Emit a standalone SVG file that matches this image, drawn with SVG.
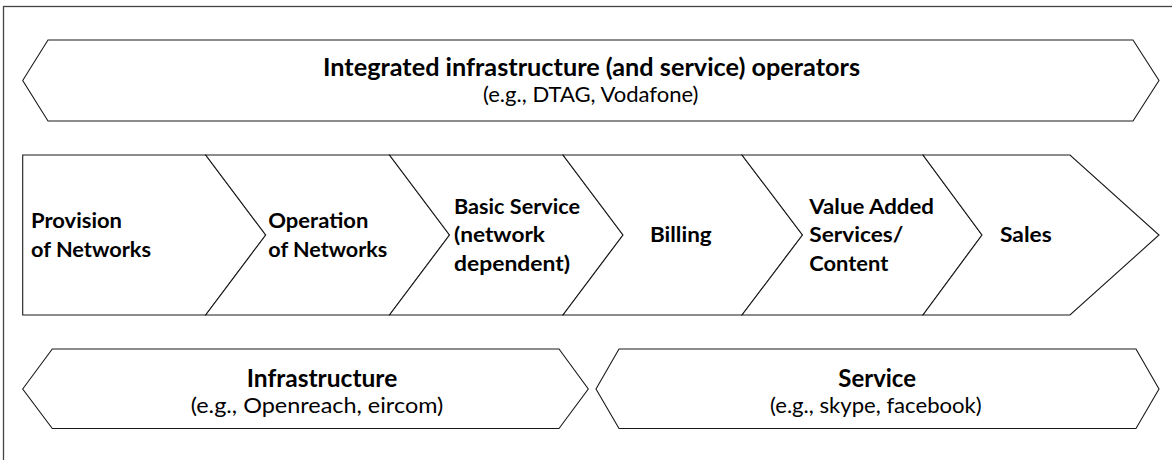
<svg xmlns="http://www.w3.org/2000/svg" width="1172" height="460" viewBox="0 0 1172 460">
<style>
.shape{fill:#fff;stroke:#1a1a1a;stroke-width:1.1;stroke-linejoin:miter}
.frame{fill:#fff;stroke:#444;stroke-width:1.3}
.t{font-family:Lato,"Liberation Sans",sans-serif;fill:#000}
.b{font-weight:bold}
.big{font-size:23.8px}
.sub{font-size:21px}
.mid{font-size:21.5px}
</style>
<rect class="frame" x="3.5" y="6.5" width="1190" height="480"/>
<g id="operators">
<polygon class="shape" points="22.7,80.5 48,40 1133,40 1159,80.5 1133,121 48,121"/>
<text class="t b big" x="323" y="76" textLength="537" lengthAdjust="spacingAndGlyphs">Integrated infrastructure (and service) operators</text>
<text class="t sub" x="483" y="102" textLength="215.5" lengthAdjust="spacingAndGlyphs">(e.g., DTAG, Vodafone)</text>
</g>
<g id="provision">
<polygon class="shape" points="22.7,155 205.7,155 265.7,235 205.7,315 22.7,315"/>
<text class="t b mid" x="31" y="227.5" textLength="91" lengthAdjust="spacingAndGlyphs">Provision</text>
<text class="t b mid" x="31" y="256.5" textLength="120" lengthAdjust="spacingAndGlyphs">of Networks</text>
</g>
<g id="operation">
<polygon class="shape" points="205.7,155 389.5,155 449.5,235 389.5,315 205.7,315 265.7,235"/>
<text class="t b mid" x="268.3" y="227.5" textLength="100" lengthAdjust="spacingAndGlyphs">Operation</text>
<text class="t b mid" x="268.3" y="256.5" textLength="119" lengthAdjust="spacingAndGlyphs">of Networks</text>
</g>
<g id="basic-service">
<polygon class="shape" points="389.5,155 563,155 623,235 563,315 389.5,315 449.5,235"/>
<text class="t b mid" x="454" y="213.5" textLength="126" lengthAdjust="spacingAndGlyphs">Basic Service</text>
<text class="t b mid" x="454" y="242" textLength="91" lengthAdjust="spacingAndGlyphs">(network</text>
<text class="t b mid" x="454" y="270.5" textLength="116" lengthAdjust="spacingAndGlyphs">dependent)</text>
</g>
<g id="billing">
<polygon class="shape" points="563,155 742,155 802.5,235 742,315 563,315 623,235"/>
<text class="t b mid" x="650" y="242" textLength="61.7" lengthAdjust="spacingAndGlyphs">Billing</text>
</g>
<g id="value-added">
<polygon class="shape" points="742,155 923,155 982,235 923,315 742,315 802.5,235"/>
<text class="t b mid" x="809.3" y="213.5" textLength="124.7" lengthAdjust="spacingAndGlyphs">Value Added</text>
<text class="t b mid" x="809.3" y="242" textLength="94" lengthAdjust="spacingAndGlyphs">Services/</text>
<text class="t b mid" x="809.3" y="270.5" textLength="79" lengthAdjust="spacingAndGlyphs">Content</text>
</g>
<g id="sales">
<polygon class="shape" points="923,155 1070,155 1159,235 1070,315 923,315 982,235"/>
<text class="t b mid" x="1000" y="242" textLength="51.7" lengthAdjust="spacingAndGlyphs">Sales</text>
</g>
<g id="infrastructure">
<polygon class="shape" points="22.7,389 52.3,349 559,349 588.3,389 559,428.5 52.3,428.5"/>
<text class="t b big" x="246.7" y="386.5" textLength="150.6" lengthAdjust="spacingAndGlyphs">Infrastructure</text>
<text class="t sub" x="190.7" y="412.5" textLength="252.6" lengthAdjust="spacingAndGlyphs">(e.g., Openreach, eircom)</text>
</g>
<g id="service">
<polygon class="shape" points="596,389 619,349 1136,349 1159,389 1136,428.5 619,428.5"/>
<text class="t b big" x="838.3" y="386.5" textLength="77.7" lengthAdjust="spacingAndGlyphs">Service</text>
<text class="t sub" x="770" y="412.5" textLength="211.7" lengthAdjust="spacingAndGlyphs">(e.g., skype, facebook)</text>
</g>
<g id="connectors"></g>
</svg>
